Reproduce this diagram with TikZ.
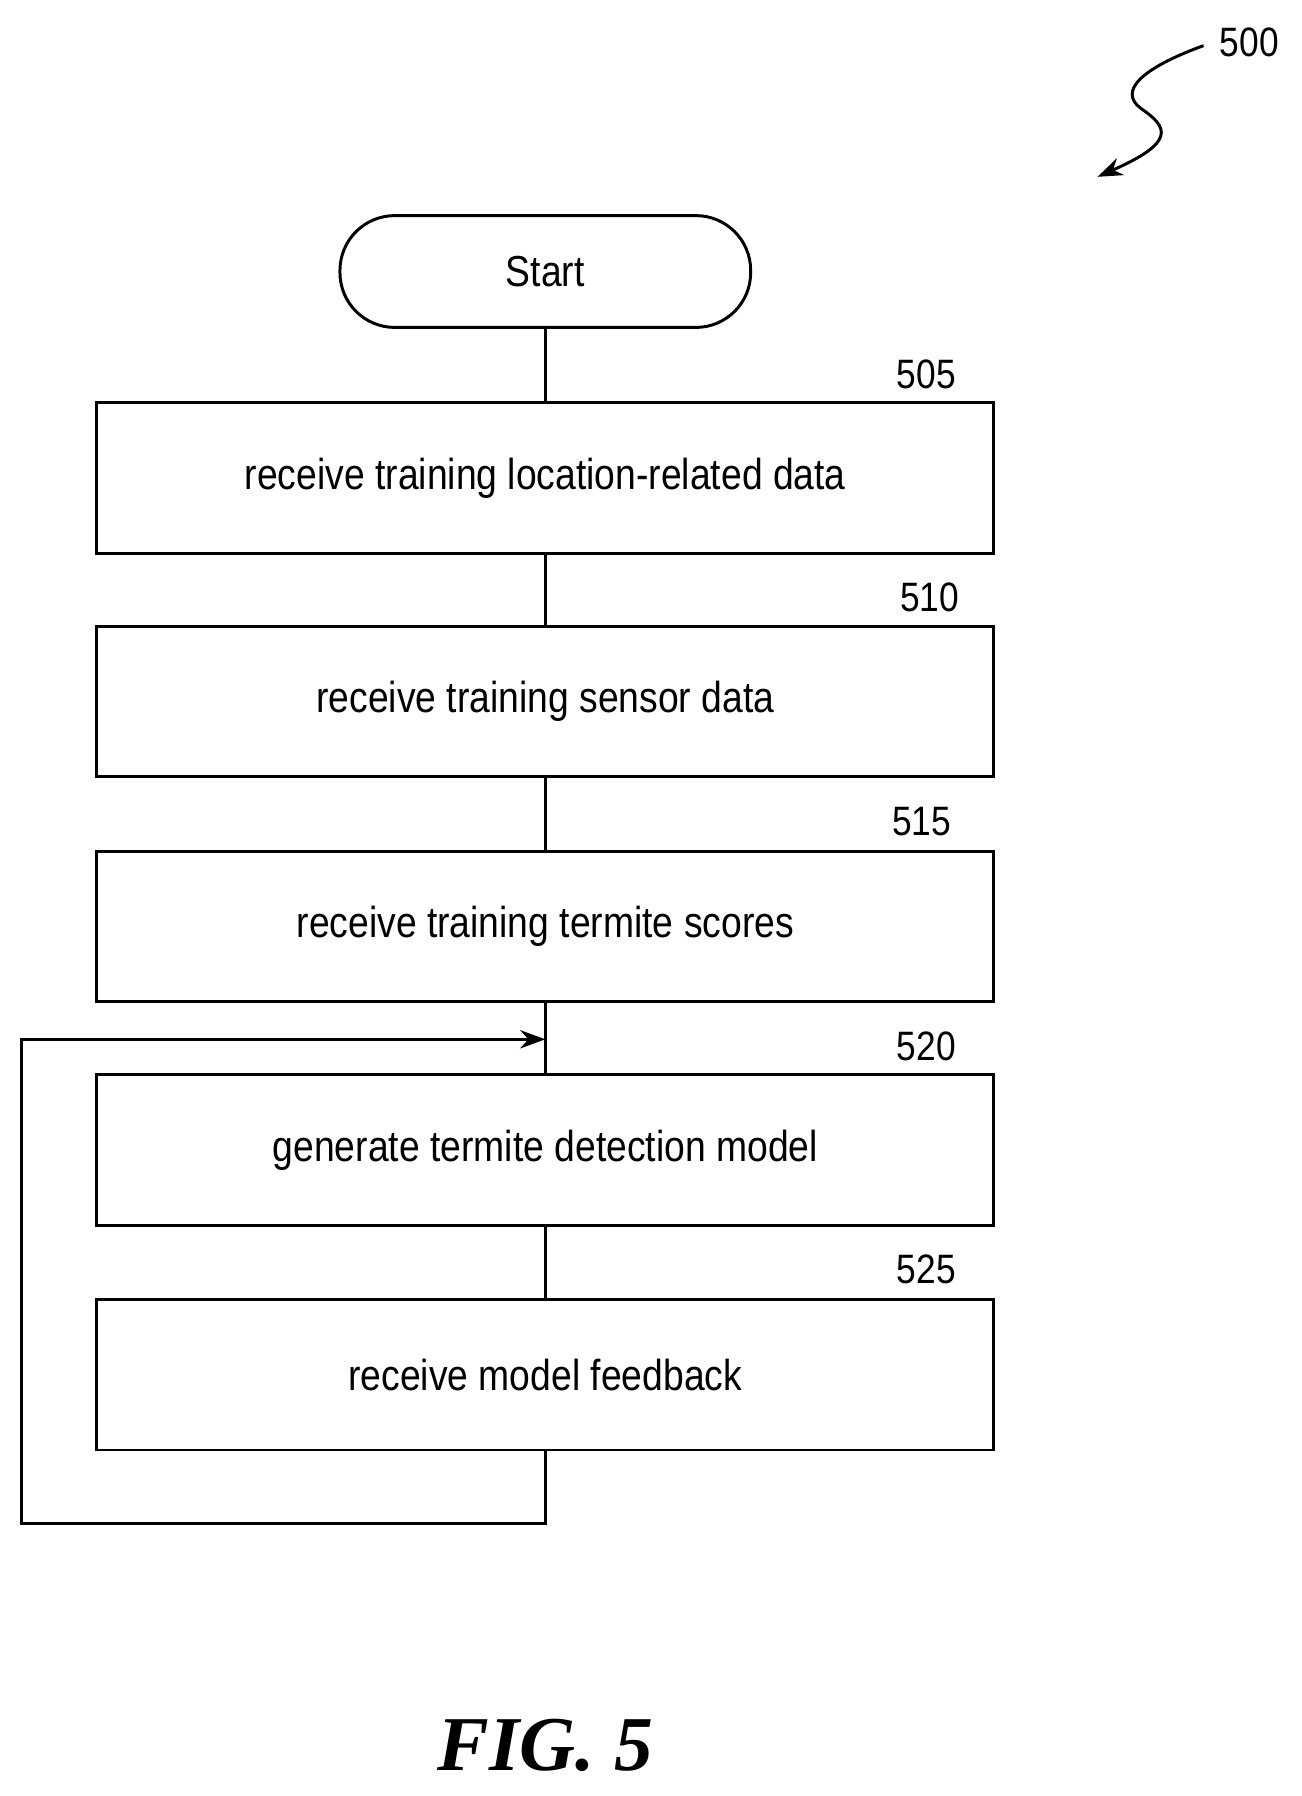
\documentclass[tikz,border=0pt]{standalone}
\usepackage{fontspec}
\setmainfont{Liberation Sans}
\newfontfamily\narrowf[FakeStretch=0.86]{Liberation Sans}
\newfontfamily\figf{Liberation Serif}
\usetikzlibrary{arrows.meta}
\begin{document}
\begin{tikzpicture}[x=0.5pt,y=-0.5pt,line width=1.3pt,
  box/.style={draw,minimum width=393pt,minimum height=66pt,inner sep=0,font=\narrowf\fontsize{19}{22}\selectfont},
  num/.style={font=\narrowf\fontsize{18}{20}\selectfont},
  arr/.style={-{Stealth[length=11pt,width=8pt]}}]
\useasboundingbox (0,0) rectangle (1140.5,1574.3);
\node[draw,rounded corners=24pt,minimum width=180pt,minimum height=49pt,font=\narrowf\fontsize{19}{22}\selectfont] (st) at (478,238) {Start};
\node[box] (b1) at (478,419) {receive training location-related data};
\node[box] (b2) at (478,615) {receive training sensor data};
\node[box] (b3) at (478,812) {receive training termite scores};
\node[box] (b4) at (478,1008) {generate termite detection model};
\node[box] (b5) at (478,1205) {receive model feedback};
\node[num] (n1) at (812,328) {505};
\node[num] (n2) at (815,524) {510};
\node[num] (n3) at (808,720) {515};
\node[num] (n4) at (812,917) {520};
\node[num] (n5) at (812,1113) {525};
\draw (st) -- (b1); \draw (b1) -- (b2); \draw (b2) -- (b3); \draw (b3) -- (b4); \draw (b4) -- (b5);
\coordinate (m) at (478,911);
\draw[arr] (b5.south) -- (478,1335) -- (19,1335) -- (19,911) -- (m);
\node[num] (n500) at (1095,37) {500};
\coordinate (sq) at (1055,40);
\coordinate (tip) at (962,155);
\draw[arr] (sq) .. controls (1000,60) and (980,80) .. (1000,95) .. controls (1025,112) and (1030,125) .. (tip);
\node[font=\figf\bfseries\itshape\fontsize{34}{40}\selectfont] (fig) at (478,1530) {FIG. 5};
\end{tikzpicture}
\end{document}
